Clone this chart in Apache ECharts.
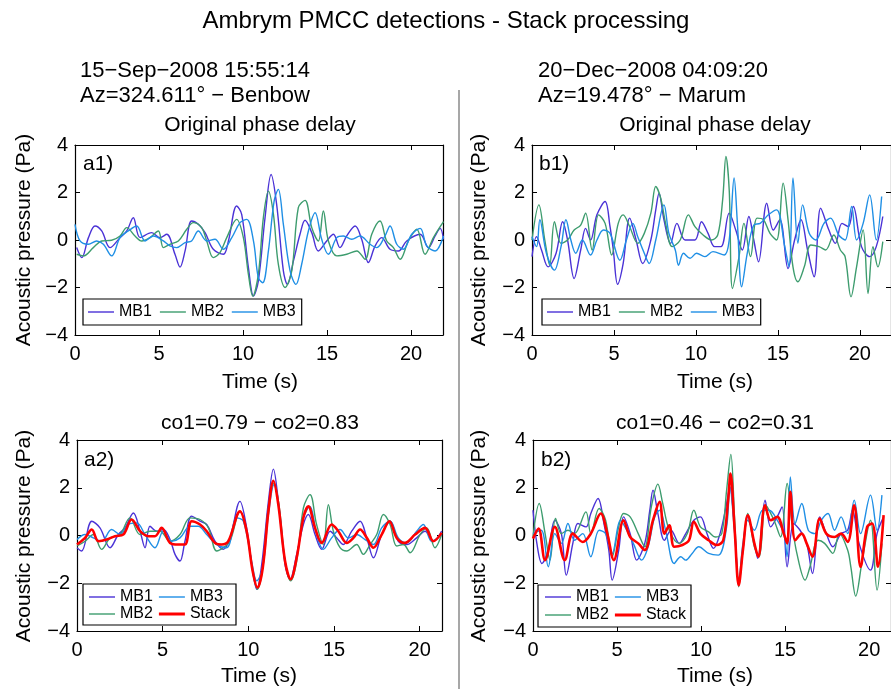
<!DOCTYPE html>
<html>
<head>
<meta charset="utf-8">
<script src="https://cdn.jsdelivr.net/npm/echarts@6/dist/echarts.min.js"></script>
<style>
  html, body { margin: 0; padding: 0; background: #fff; }
  #chart { width: 891px; height: 689px; }
</style>
</head>
<body>
<div id="chart"></div>
<script>
// ---- data: [time (s), pressure (Pa)] ----
var a1_mb1 = [[0.1,-0.32],[0.4,-0.74],[0.8,0.1],[1.19,0.59],[1.59,0.38],[2.08,-0.32],[2.68,0.1],[3.08,0.38],[3.47,0.94],[3.87,0.1],[4.56,0.31],[5.06,0.1],[5.46,0.24],[5.95,-0.6],[6.25,-1.14],[6.55,-0.46],[6.94,0.8],[7.34,0.66],[7.74,0.31],[8.23,-0.39],[8.83,-0.6],[9.13,-0.04],[9.62,1.43],[9.92,1.08],[10.32,-1.16],[10.62,-2.36],[10.91,-1.73],[11.31,0.94],[11.67,2.76],[12.0,1.5],[12.4,-1.3],[12.64,-1.87],[13.0,-0.88],[13.39,0.24],[13.69,0.83],[14.09,0.31],[14.48,-0.46],[14.98,-0.04],[15.38,0.24],[15.77,-0.32],[16.17,0.17],[16.67,0.59],[17.06,0.03],[17.46,-0.95],[17.86,-0.25],[18.25,0.1],[18.75,-0.39],[19.25,-0.46],[19.74,-0.04],[20.54,0.24],[21.03,-0.32],[21.43,0.17],[21.73,0.49],[21.93,0.03]];
var a1_mb2 = [[0.1,-0.6],[0.5,-0.67],[1.09,-0.32],[1.59,-0.04],[2.18,-0.01],[2.68,0.17],[3.08,0.52],[3.57,0.17],[3.97,-0.04],[4.46,0.1],[4.96,0.38],[5.26,-0.32],[5.65,-0.18],[6.15,-0.04],[6.65,0.45],[7.04,0.73],[7.54,0.52],[7.84,-0.04],[8.23,-0.74],[8.63,-0.53],[9.03,0.1],[9.62,0.87],[10.02,0.1],[10.32,-1.45],[10.58,-2.36],[10.91,-1.45],[11.21,0.94],[11.51,2.06],[11.81,1.08],[12.1,-1.02],[12.5,-2.0],[12.9,-1.3],[13.29,1.36],[13.69,1.67],[14.09,0.52],[14.48,-0.04],[14.78,1.22],[15.08,-0.04],[15.58,-0.67],[16.17,-0.6],[16.77,-0.46],[17.26,-0.81],[17.66,0.24],[18.15,0.8],[18.55,-0.04],[18.95,-0.32],[19.35,-0.81],[19.84,-0.04],[20.34,0.45],[20.83,-0.6],[21.33,0.1],[21.93,0.77]];
var a1_mb3 = [[0,0.66],[0.3,-0.04],[0.79,-0.18],[1.29,-0.04],[1.69,-0.18],[2.18,-0.67],[2.68,0.1],[3.17,0.38],[3.67,0.59],[4.17,-0.04],[4.66,0.17],[5.26,-0.04],[5.65,-0.25],[6.05,-0.32],[6.55,-0.11],[6.94,-0.04],[7.34,0.38],[7.84,-0.04],[8.33,0.03],[8.83,-0.39],[9.33,0.1],[9.82,0.73],[10.22,0.87],[10.62,-0.04],[10.91,-1.59],[11.17,-1.8],[11.51,-0.46],[11.85,1.64],[12.1,2.13],[12.4,0.66],[12.8,-1.3],[13.15,-1.87],[13.49,-1.02],[13.89,0.38],[14.29,1.15],[14.68,0.03],[15.08,-0.6],[15.58,0.1],[15.97,0.17],[16.47,0.03],[16.96,0.17],[17.56,-0.18],[17.96,-0.32],[18.45,0.17],[18.75,0.59],[19.15,-0.18],[19.54,-0.39],[20.04,0.24],[20.54,0.49],[20.93,-0.25],[21.43,-0.46],[21.93,0.17]];

var b1_mb1 = [[0,-0.7],[0.28,0.14],[0.58,-0.42],[0.98,-1.13],[1.47,-0.56],[1.87,0.77],[2.17,0],[2.57,-1.62],[2.97,-0.42],[3.27,0.49],[3.57,0],[3.96,1.06],[4.46,1.62],[4.76,0.56],[4.96,-0.42],[5.22,-1.86],[5.56,-0.99],[5.96,0.92],[6.35,0],[6.75,-0.99],[7.25,0],[7.55,1.27],[7.75,1.97],[8.05,0.85],[8.45,-0.14],[8.84,0.7],[9.34,0],[9.94,0],[10.34,0.77],[10.74,0.28],[11.14,-0.28],[11.53,-0.28],[12.03,1.13],[12.43,0.42],[12.83,-0.42],[13.23,0.99],[13.53,0],[13.82,-0.92],[14.32,1.55],[14.72,0.42],[15.12,0.85],[15.62,-1.2],[16.02,0],[16.41,0.85],[16.81,-0.42],[17.21,-1.55],[17.61,1.34],[18.11,0.42],[18.51,-0.14],[18.91,0.7],[19.3,0.56],[19.6,1.41],[20.1,-0.28],[20.6,-0.7],[21.0,-0.28],[21.4,0.99]];
var b1_mb2 = [[0,0],[0.42,1.48],[0.78,0],[1.08,-1.06],[1.37,0.77],[1.77,-0.14],[2.17,0],[2.57,0.42],[2.97,0.63],[3.27,1.13],[3.67,-0.42],[4.06,1.06],[4.46,0.7],[4.86,-0.63],[5.26,0.7],[5.56,1.06],[5.96,0.56],[6.45,-0.14],[6.85,0.28],[7.25,1.13],[7.55,2.25],[7.85,1.76],[8.15,0.7],[8.55,-0.28],[9.04,0],[9.54,1.06],[9.94,0.56],[10.44,0.21],[10.94,0],[11.33,0.21],[11.63,1.69],[11.83,3.52],[12.03,2.11],[12.23,-2.04],[12.63,-0.7],[12.93,0.7],[13.33,-0.7],[13.73,0.92],[14.12,0.85],[14.52,0.28],[14.92,0],[15.32,2.39],[15.62,0.85],[15.92,-1.13],[16.22,-1.76],[16.61,-1.13],[17.01,-0.21],[17.51,-0.28],[17.91,-0.42],[18.41,0.21],[18.81,-0.42],[19.1,-0.7],[19.46,-2.39],[19.8,-1.13],[20.2,0.42],[20.5,-2.25],[20.8,-0.28],[21.1,-1.13],[21.4,-0.07]];
var b1_mb3 = [[0,0.14],[0.28,-0.28],[0.48,0.85],[0.88,-0.56],[1.37,-1.27],[1.77,-0.28],[2.07,0.85],[2.37,0],[2.67,-0.56],[3.07,0],[3.57,-0.63],[3.96,0],[4.36,0.42],[4.76,0.28],[5.36,-0.85],[5.76,0],[6.15,0.7],[6.45,0.14],[6.85,-0.56],[7.15,-0.99],[7.55,0],[8.05,1.48],[8.35,0.28],[8.74,-0.42],[8.94,-1.06],[9.24,-0.56],[9.64,-0.77],[10.04,-0.56],[10.54,-0.7],[11.04,-0.49],[11.73,-0.63],[12.03,0],[12.33,2.61],[12.53,0.7],[12.79,-1.97],[13.13,-0.56],[13.53,0.63],[13.92,0.7],[14.42,1.06],[14.92,1.27],[15.42,-0.28],[15.68,-1.13],[15.92,2.61],[16.22,-0.14],[16.51,1.48],[16.91,0.28],[17.31,0],[17.81,0.7],[18.21,0.92],[18.71,0.21],[19.1,0],[19.5,1.41],[19.8,0],[20.2,0.7],[20.6,1.9],[21.0,0],[21.33,1.83]];

var a2_mb1 = [[0,-0.51],[0.27,-0.65],[0.86,0.6],[1.34,0.32],[1.93,-0.51],[2.41,0.04],[2.8,0.32],[3.29,0.94],[3.68,0.18],[3.97,-0.51],[4.26,0.39],[4.65,0.18],[5.04,0.25],[5.43,-0.17],[5.72,-0.79],[6.01,-1.07],[6.3,-0.24],[6.69,0.81],[7.18,0.6],[7.57,0.46],[8.05,-0.24],[8.54,-0.58],[8.93,-0.1],[9.51,1.43],[9.9,0.32],[10.25,-1.49],[10.49,-2.25],[10.78,-1.21],[11.17,1.43],[11.46,2.78],[11.75,1.43],[12.14,-1.21],[12.43,-1.83],[12.82,-0.79],[13.21,0.46],[13.5,0.88],[13.89,0.04],[14.28,-0.58],[14.77,0.18],[15.16,-0.1],[15.54,-0.38],[16.03,0.18],[16.52,0.6],[16.91,-0.1],[17.3,-0.93],[17.78,0.04],[18.27,0.6],[18.75,-0.24],[19.24,-0.38],[19.82,-0.1],[20.31,0.18],[20.8,-0.24],[21.28,0.18]];
var a2_mb2 = [[0,-0.44],[0.47,-0.24],[0.95,0.04],[1.44,-0.58],[1.93,-0.1],[2.51,0.04],[3.09,0.74],[3.68,0.04],[4.26,0.18],[4.84,0.18],[5.43,-0.24],[6.01,0.04],[6.6,0.74],[7.18,0.67],[7.67,0.32],[8.15,-0.65],[8.54,-0.51],[8.93,-0.24],[9.51,1.01],[9.9,0.18],[10.29,-1.63],[10.53,-2.25],[10.84,-1.35],[11.17,1.15],[11.5,2.19],[11.81,1.15],[12.14,-1.07],[12.47,-1.9],[12.82,-1.07],[13.21,1.15],[13.6,1.71],[13.98,0.46],[14.37,-0.38],[14.67,1.29],[14.96,0.18],[15.35,-0.51],[15.74,-0.65],[16.32,-0.38],[16.71,-0.79],[17.1,-0.38],[17.49,0.04],[17.88,0.88],[18.27,0.46],[18.66,-0.44],[19.05,-0.38],[19.44,-0.72],[20.02,0.04],[20.41,0.32],[20.89,-0.51],[21.28,0.04]];
var a2_mb3 = [[0,-0.17],[0.47,0.04],[0.95,-0.1],[1.44,-0.24],[2.02,0.25],[2.51,0.04],[3.0,0.46],[3.49,0.53],[3.97,0.04],[4.55,-0.51],[5.04,0.18],[5.52,-0.24],[6.01,-0.1],[6.6,0.39],[7.08,0.39],[7.57,0.04],[8.15,-0.38],[8.74,-0.51],[9.32,0.74],[9.71,0.6],[10.19,-1.07],[10.49,-1.9],[10.84,-1.35],[11.17,0.88],[11.5,2.13],[11.81,1.01],[12.14,-1.07],[12.47,-1.83],[12.82,-0.93],[13.21,0.74],[13.6,1.22],[13.98,0.04],[14.37,-0.58],[14.86,-0.1],[15.35,0.25],[15.84,-0.1],[16.32,0.04],[16.81,-0.17],[17.3,-0.38],[17.78,0.32],[18.27,0.6],[18.75,-0.1],[19.24,-0.31],[19.82,0.18],[20.21,0.46],[20.7,-0.24],[21.28,0.04]];
var a2_stack = [[0,-0.38],[0.47,-0.1],[0.86,0.25],[1.25,-0.24],[1.73,-0.17],[2.22,-0.03],[2.7,0.04],[3.19,0.67],[3.68,0.18],[4.16,-0.03],[4.55,-0.03],[4.94,0.32],[5.43,-0.31],[5.91,-0.38],[6.3,-0.38],[6.69,0.6],[7.18,0.46],[7.57,0.18],[8.05,-0.31],[8.44,-0.38],[8.83,-0.24],[9.51,1.01],[9.9,0.18],[10.25,-1.49],[10.53,-2.18],[10.84,-1.35],[11.17,1.01],[11.46,2.29],[11.75,1.29],[12.14,-1.07],[12.47,-1.83],[12.82,-0.93],[13.21,0.74],[13.5,1.22],[13.89,0.32],[14.28,-0.31],[14.86,0.46],[15.25,0.18],[15.74,-0.31],[16.13,-0.1],[16.52,0.25],[16.91,-0.1],[17.3,-0.51],[17.78,0.04],[18.23,0.6],[18.66,-0.1],[19.14,-0.31],[19.73,0.04],[20.31,0.32],[20.8,-0.24],[21.28,0.11]];

var b2_mb1 = [[0,1.06],[0.23,-0.33],[0.53,-1.17],[0.91,-0.61],[1.3,0.64],[1.69,0.08],[1.98,-1.66],[2.37,-0.33],[2.67,0.5],[3.15,0.36],[3.44,0.92],[3.87,1.55],[4.22,0.5],[4.51,-0.61],[4.71,-1.87],[5.1,-0.61],[5.39,0.78],[5.78,0.08],[6.17,-1.03],[6.65,-0.33],[6.95,1.06],[7.14,1.9],[7.43,0.92],[7.82,-0.2],[8.21,0.22],[8.7,-0.33],[9.09,0.08],[9.57,0.64],[9.96,0.78],[10.35,0.08],[10.74,-0.54],[11.13,0.08],[11.52,1.34],[11.71,2.04],[12.0,0.22],[12.24,-2.01],[12.49,-0.61],[12.78,0.78],[13.17,-0.33],[13.37,-0.96],[13.81,1.48],[14.14,0.36],[14.53,0.78],[14.82,1.2],[15.12,-1.31],[15.51,0.5],[15.89,0.22],[16.28,-0.33],[16.63,-1.59],[17.06,0.78],[17.45,0.08],[17.84,-0.47],[18.33,0.08],[18.72,0.22],[19.01,1.06],[19.4,-0.33],[20.08,-1.45],[20.47,0.08],[20.86,0.78]];
var b2_mb2 = [[0,-0.06],[0.37,1.34],[0.72,0.08],[1.01,-1.03],[1.34,0.71],[1.69,0.08],[2.08,0.22],[2.47,0.08],[3.15,0.99],[3.44,0.08],[3.93,1.13],[4.32,0.64],[4.71,-0.89],[5.1,0.36],[5.39,0.92],[5.78,0.78],[6.26,0.08],[6.65,-0.47],[7.04,1.2],[7.43,2.15],[7.72,1.34],[8.11,0.22],[8.7,-0.33],[9.18,0.08],[9.57,1.06],[9.96,0.36],[10.45,0.15],[10.84,-0.06],[11.23,0.08],[11.52,1.9],[11.77,3.4],[12.0,0.64],[12.24,-2.15],[12.49,-0.61],[12.78,0.92],[13.17,-0.47],[13.46,-0.89],[13.85,1.27],[14.34,0.64],[14.73,-0.06],[15.12,2.18],[15.41,0.5],[15.7,-0.75],[16.19,-1.87],[16.48,-1.31],[16.96,-0.2],[17.35,-0.33],[17.84,-0.75],[18.23,0.08],[18.72,-0.61],[18.91,-1.31],[19.2,-2.54],[19.59,-1.03],[20.08,0.64],[20.47,-2.29],[20.76,-0.33]];
var b2_mb3 = [[0,0.08],[0.49,0.22],[0.91,-1.31],[1.3,0.08],[1.69,-0.33],[2.08,0.5],[2.47,-0.2],[2.96,0.08],[3.44,-0.89],[3.93,0.22],[4.32,0.08],[4.71,-0.75],[5.2,0.64],[5.58,0.22],[5.97,-0.33],[6.46,-1.03],[6.85,-0.47],[7.24,0.78],[7.53,1.06],[7.93,0.08],[8.4,-1.17],[8.79,-0.89],[9.09,-1.03],[9.47,-0.75],[9.86,-0.47],[10.45,-0.75],[11.03,-0.82],[11.52,0.36],[11.71,2.04],[12.0,0.08],[12.24,-1.87],[12.49,-0.33],[12.78,0.64],[13.17,0.22],[13.66,1.06],[14.05,1.06],[14.53,0.64],[14.92,0.08],[15.12,-0.89],[15.31,2.45],[15.6,0.5],[15.99,1.34],[16.38,0.22],[16.77,0.08],[17.16,0.64],[17.55,0.92],[17.94,0.22],[18.33,0.78],[18.72,0.08],[19.11,1.48],[19.49,0.08],[20.08,1.69],[20.47,0.22],[20.76,1.69]];
var b2_stack = [[0,-0.13],[0.33,0.29],[0.72,-1.03],[1.3,0.36],[1.89,-1.03],[2.37,0.08],[2.96,-0.27],[3.44,0.08],[4.03,0.92],[4.42,0.08],[4.81,-1.03],[5.39,0.64],[5.78,-0.06],[6.26,-0.33],[6.65,-0.61],[7.14,0.64],[7.53,1.41],[7.82,0.08],[8.11,0.43],[8.4,-0.47],[8.89,-0.4],[9.28,-0.2],[9.57,0.57],[9.96,0.08],[10.45,-0.2],[10.93,-0.4],[11.32,-0.2],[11.61,1.48],[11.75,2.59],[12.0,0.22],[12.24,-2.08],[12.49,-0.61],[12.78,0.85],[13.17,-0.33],[13.4,-0.89],[13.81,1.27],[14.14,0.64],[14.53,0.78],[14.92,0.08],[15.12,-0.33],[15.31,1.83],[15.6,-0.2],[15.99,0.08],[16.28,-0.33],[16.63,-0.89],[17.06,0.71],[17.45,0.08],[17.94,-0.06],[18.33,0.08],[18.72,-0.27],[19.11,1.27],[19.49,-1.31],[19.88,0.36],[20.18,0.5],[20.53,-1.31],[20.86,0.85]];

var yTicks = [-4, -2, 0, 2, 4];
var xTicks = [0, 5, 10, 15, 20];
var xMaxTop = 21.9, xMaxBottom = 21.3;

var FONT = '"Liberation Sans", Helvetica, Arial, sans-serif';
var colors = { MB1: '#4a32d6', MB2: '#3d9c6e', MB3: '#1f8fe5', Stack: '#ff0000' };

// panel boxes (px)
var grids = [
  { left: 75,  top: 145, width: 368, height: 190 },
  { left: 532, top: 145, width: 367, height: 190 },
  { left: 77,  top: 440, width: 365, height: 191 },
  { left: 533, top: 440, width: 365, height: 191 }
];

var xAxes = [], yAxes = [];
grids.forEach(function (g, i) {
  var xmax = i < 2 ? xMaxTop : xMaxBottom;
  var base = {
    gridIndex: i, type: 'value', min: xTicks[0], max: xmax, interval: 5,
    axisLine: { show: true, onZero: false, lineStyle: { color: '#000', width: 1.2 } },
    axisTick: { show: true, inside: true, length: 5, lineStyle: { color: '#000' } },
    splitLine: { show: false }
  };
  xAxes.push(Object.assign({}, base, {
    position: 'bottom',
    axisLabel: { color: '#000', fontSize: 20, fontFamily: FONT, margin: 9, showMaxLabel: false }
  }));
  xAxes.push(Object.assign({}, base, { position: 'top', axisLabel: { show: false } }));
  var ybase = {
    gridIndex: i, type: 'value', min: yTicks[0], max: yTicks[yTicks.length - 1], interval: 2,
    axisLine: { show: true, onZero: false, lineStyle: { color: '#000', width: 1.2 } },
    axisTick: { show: true, inside: true, length: 5, lineStyle: { color: '#000' } },
    splitLine: { show: false }
  };
  yAxes.push(Object.assign({}, ybase, {
    position: 'left',
    axisLabel: { color: '#000', fontSize: 20, fontFamily: FONT, margin: 7,
      formatter: function (v) { return String(v).replace('-', '\u2212'); } }
  }));
  yAxes.push(Object.assign({}, ybase, { position: 'right', axisLabel: { show: false } }));
});

function line(name, data, panel) {
  return {
    name: name, type: 'line', data: data,
    xAxisIndex: panel * 2, yAxisIndex: panel * 2,
    symbol: 'none', smooth: 0.35,
    lineStyle: { color: colors[name], width: name === 'Stack' ? 2.6 : 1.4 },
    itemStyle: { color: colors[name] },
    z: name === 'Stack' ? 3 : 2
  };
}

var series = [
  line('MB1', a1_mb1, 0), line('MB2', a1_mb2, 0), line('MB3', a1_mb3, 0),
  line('MB1', b1_mb1, 1), line('MB2', b1_mb2, 1), line('MB3', b1_mb3, 1),
  line('MB1', a2_mb1, 2), line('MB2', a2_mb2, 2), line('MB3', a2_mb3, 2), line('Stack', a2_stack, 2),
  line('MB1', b2_mb1, 3), line('MB2', b2_mb2, 3), line('MB3', b2_mb3, 3), line('Stack', b2_stack, 3)
];

// legend keys drawn as short line segments
var thinKey = 'path://M0,0h26v1.4h-26z';
var thickKey = 'path://M0,0h26v3h-26z';
function keys(names) {
  return names.map(function (n) { return { name: n, icon: n === 'Stack' ? thickKey : thinKey }; });
}
var legendText = { color: '#000', fontSize: 16, fontFamily: FONT };
function legend(opts) {
  return Object.assign({
    orient: 'horizontal', selectedMode: false, itemWidth: 26, itemHeight: 12,
    itemGap: 8, textStyle: legendText, z: 10
  }, opts);
}
var legends = [
  legend({ left: 83, top: 299, data: keys(['MB1', 'MB2', 'MB3']), padding: [5, 6, 5, 5],
    borderColor: '#000', borderWidth: 1.2, backgroundColor: '#fff' }),
  legend({ left: 542, top: 299, data: keys(['MB1', 'MB2', 'MB3']), padding: [5, 6, 5, 5],
    borderColor: '#000', borderWidth: 1.2, backgroundColor: '#fff' }),
  legend({ left: 89, top: 589, data: keys(['MB1', 'MB3']), padding: 0, itemGap: 6 }),
  legend({ left: 89, top: 606, data: keys(['MB2', 'Stack']), padding: 0, itemGap: 6 }),
  legend({ left: 545, top: 589, data: keys(['MB1', 'MB3']), padding: 0, itemGap: 6 }),
  legend({ left: 545, top: 607, data: keys(['MB2', 'Stack']), padding: 0, itemGap: 6 })
];

function txt(s, x, y, size, align, rot) {
  return {
    type: 'text', x: x, y: y, rotation: rot || 0, z: 20,
    style: { text: s, x: 0, y: 0, fill: '#000', font: size + 'px ' + FONT,
      textAlign: align || 'left', textVerticalAlign: 'middle' }
  };
}
var R = Math.PI / 2;
var graphics = [
  txt('Ambrym PMCC detections - Stack processing', 446, 21, 24, 'center'),
  txt('15\u2212Sep\u22122008 15:55:14', 80, 71, 22),
  txt('Az=324.611\u00b0 \u2212 Benbow', 80, 96, 22),
  txt('20\u2212Dec\u22122008 04:09:20', 538, 71, 22),
  txt('Az=19.478\u00b0 \u2212 Marum', 538, 96, 22),
  txt('Original phase delay', 260, 125, 21, 'center'),
  txt('Original phase delay', 715, 125, 21, 'center'),
  txt('co1=0.79 \u2212 co2=0.83', 260, 423, 21, 'center'),
  txt('co1=0.46 \u2212 co2=0.31', 715, 423, 21, 'center'),
  txt('Time (s)', 260, 382, 21, 'center'),
  txt('Time (s)', 715, 382, 21, 'center'),
  txt('Time (s)', 259, 676, 21, 'center'),
  txt('Time (s)', 715, 676, 21, 'center'),
  txt('Acoustic pressure (Pa)', 24, 240, 21, 'center', R),
  txt('Acoustic pressure (Pa)', 479, 240, 21, 'center', R),
  txt('Acoustic pressure (Pa)', 24, 536, 21, 'center', R),
  txt('Acoustic pressure (Pa)', 479, 536, 21, 'center', R),
  txt('a1)', 83, 164, 21),
  txt('b1)', 539, 164, 21),
  txt('a2)', 84, 460, 21),
  txt('b2)', 541, 460, 21),
  { type: 'line', z: 5, shape: { x1: 459, y1: 90, x2: 459, y2: 689 },
    style: { stroke: '#8a8a8a', lineWidth: 1.5 } },
  { type: 'rect', z: 5, shape: { x: 83, y: 584, width: 153, height: 41 },
    style: { fill: '#fff', stroke: '#000', lineWidth: 1.2 } },
  { type: 'rect', z: 5, shape: { x: 538, y: 585, width: 153, height: 42 },
    style: { fill: '#fff', stroke: '#000', lineWidth: 1.2 } }
];

var myChart = echarts.init(document.getElementById('chart'), null, { renderer: 'canvas' });
myChart.setOption({
  animation: false,
  backgroundColor: '#fff',
  grid: grids,
  xAxis: xAxes,
  yAxis: yAxes,
  legend: legends,
  series: series,
  graphic: graphics
});
</script>
</body>
</html>
